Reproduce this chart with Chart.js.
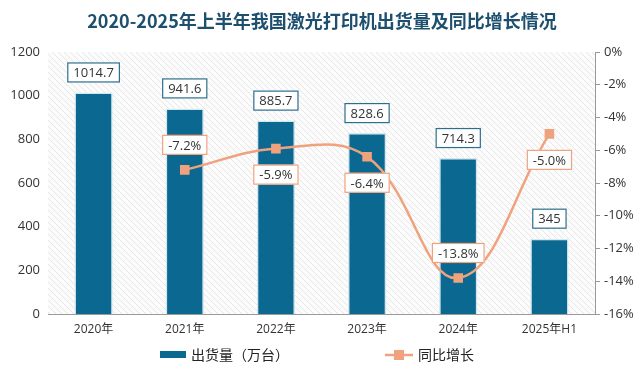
<!DOCTYPE html>
<html><head><meta charset="utf-8">
<script src="https://cdn.jsdelivr.net/npm/chart.js@4"></script>
<style>html,body{margin:0;padding:0;background:#fff;}#wrap{width:642px;height:372px;}</style>
</head><body><div id="wrap"><canvas id="c" width="642" height="372"></canvas></div>
<script>
const categories = ['2020年','2021年','2022年','2023年','2024年','2025年H1'];
const shipments = [1014.7, 941.6, 885.7, 828.6, 714.3, 345];
const growth = [null, -7.2, -5.9, -6.4, -13.8, -5.0];
const growthLabelDir = [0, -1, 1, 1, -1, 1];
const leftTicks = [0,200,400,600,800,1000,1200];
const rightTicks = [0,-2,-4,-6,-8,-10,-12,-14,-16];
const titleText = '2020-2025年上半年我国激光打印机出货量及同比增长情况';
const legendBar = '出货量（万台）';
const legendLine = '同比增长';

const FONT = '"Open Sans","Noto Sans CJK SC",sans-serif';
const BAR = '#0b6890';
const LINE = '#f0a27e';

function hatch(){
  const p = document.createElement('canvas'); p.width = 6; p.height = 6;
  const g = p.getContext('2d');
  g.fillStyle = '#fcfcfc'; g.fillRect(0,0,6,6);
  g.strokeStyle = '#e0e0e0'; g.lineWidth = 0.8;
  g.beginPath(); g.moveTo(0,0); g.lineTo(6,6); g.moveTo(-3,3); g.lineTo(3,9); g.moveTo(3,-3); g.lineTo(9,3); g.stroke();
  return p;
}

function box(ctx, text, cx, cy, border){
  ctx.font = '13px ' + FONT;
  const w = ctx.measureText(text).width + 12, h = 20;
  ctx.fillStyle = '#fff'; ctx.strokeStyle = border; ctx.lineWidth = 1.2;
  ctx.fillRect(cx - w/2, cy - h/2, w, h);
  ctx.strokeRect(cx - w/2 + .5, cy - h/2 + .5, w - 1, h - 1);
  ctx.fillStyle = '#333'; ctx.textAlign = 'center'; ctx.textBaseline = 'middle';
  ctx.fillText(text, cx, cy + 1);
}

const deco = {
  id: 'deco',
  beforeDraw(chart){
    const {ctx, chartArea:a} = chart;
    ctx.save();
    ctx.fillStyle = ctx.createPattern(hatch(), 'repeat');
    ctx.fillRect(a.left, a.top, a.right - a.left, a.bottom - a.top);
    ctx.restore();
  },
  afterDraw(chart){
    const ctx = chart.ctx;
    ctx.save();
    ctx.font = 'bold 18px "Noto Sans CJK SC",sans-serif';
    ctx.fillStyle = '#1d4f6e'; ctx.textAlign = 'center'; ctx.textBaseline = 'middle';
    ctx.fillText(titleText, 322, 21);
    const bm = chart.getDatasetMeta(0);
    bm.data.forEach((el, i) => {
      box(ctx, String(shipments[i]), el.x, el.y - 20, '#2d6e8c');
    });
    const lm = chart.getDatasetMeta(1);
    lm.data.forEach((el, i) => {
      if (growth[i] === null) return;
      const d = growthLabelDir[i];
      const off = d < 0 ? -25 : 26;
      box(ctx, growth[i].toFixed(1) + '%', el.x, el.y + off, LINE);
    });
    ctx.fillStyle = BAR; ctx.fillRect(160, 351, 26, 7);
    ctx.font = '14px "Noto Sans CJK SC",sans-serif';
    ctx.fillStyle = '#222'; ctx.textAlign = 'left'; ctx.textBaseline = 'middle';
    ctx.fillText(legendBar, 191, 355);
    ctx.strokeStyle = LINE; ctx.lineWidth = 2.5;
    ctx.beginPath(); ctx.moveTo(385, 355); ctx.lineTo(413, 355); ctx.stroke();
    ctx.fillStyle = LINE; ctx.fillRect(394, 350, 10, 10);
    ctx.fillStyle = '#222';
    ctx.fillText(legendLine, 418, 355);
    ctx.restore();
  }
};

new Chart(document.getElementById('c'), {
  data: {
    labels: categories,
    datasets: [
      { type: 'bar', data: shipments, yAxisID: 'y', backgroundColor: BAR, borderColor: '#d4e6ee', borderWidth: 1.5,
        barPercentage: 0.42, categoryPercentage: 1, order: 2 },
      { type: 'line', data: growth, yAxisID: 'y1', borderColor: LINE, borderWidth: 2.5, tension: 0.4,
        pointStyle: 'rect', pointRadius: 5, pointBackgroundColor: LINE, pointBorderColor: LINE, order: 1, spanGaps: false }
    ]
  },
  options: {
    responsive: false, animation: false,
    layout: { padding: { top: 52, bottom: 33, left: 0, right: 0 } },
    plugins: { legend: { display: false }, title: { display: false }, tooltip: { enabled: false } },
    scales: {
      x: {
        grid: { display: false, drawTicks: false },
        border: { display: true, color: '#9a9a9a' },
        ticks: { color: '#333', font: { size: 12, family: FONT }, padding: 8 },
        afterFit(s){ s.height = 25; }
      },
      y: {
        position: 'left', min: 0, max: 1200,
        afterBuildTicks(s){ s.ticks = leftTicks.map(v => ({ value: v })); },
        grid: { display: false, drawTicks: false },
        border: { display: false },
        ticks: { color: '#333', font: { size: 13, family: FONT }, padding: 8, callback: v => String(v) },
        afterFit(s){ s.width = 48; }
      },
      y1: {
        position: 'right', min: -16, max: 0,
        afterBuildTicks(s){ s.ticks = rightTicks.map(v => ({ value: v })); },
        grid: { display: true, drawOnChartArea: false, drawTicks: true, tickLength: 5, color: '#999' },
        border: { display: true, color: '#999' },
        ticks: { color: '#333', font: { size: 13, family: FONT }, padding: 4, callback: v => v + '%' },
        afterFit(s){ s.width = 47; }
      }
    }
  },
  plugins: [deco]
});
</script></body></html>
